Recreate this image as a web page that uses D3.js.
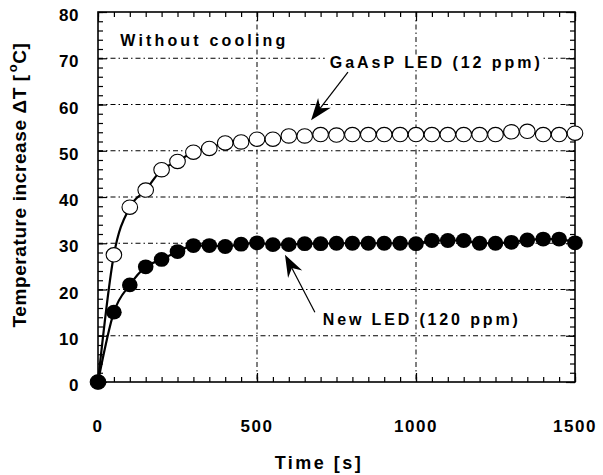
<!DOCTYPE html>
<html><head><meta charset="utf-8">
<script src="https://cdn.jsdelivr.net/npm/d3@7"></script>
<style>
body{margin:0;background:#fff;}
text{font-family:"Liberation Sans",Arial,sans-serif;font-weight:bold;fill:#000;}
</style></head>
<body><svg id="c" width="603" height="475"></svg>
<script>
const times = [0,50,100,150,200,250,300,350,400,450,500,550,600,650,700,750,800,850,900,950,1000,1050,1100,1150,1200,1250,1300,1350,1400,1450,1500];
const gaasp = [0,27.5,37.8,41.5,45.9,47.7,49.7,50.5,51.7,51.9,52.5,52.5,53.2,53.2,53.5,53.4,53.5,53.5,53.5,53.5,53.5,53.5,53.5,53.5,53.5,53.5,54.1,54.2,53.5,53.5,53.8];
const newled = [0,15.1,21.0,24.9,26.5,28.2,29.5,29.5,29.3,29.8,30.1,29.7,29.7,29.9,29.9,30.0,30.0,30.0,30.0,30.0,29.9,30.6,30.6,30.6,30.0,30.0,30.2,30.7,30.9,30.9,30.1];
const xTicks = [0,500,1000,1500];
const yTicks = [0,10,20,30,40,50,60,70,80];
const xTitle = "Time [s]";
const yTitle = "Temperature increase ΔT [";
const note = "Without cooling";
const label1 = "GaAsP LED (12 ppm)";
const label2 = "New LED (120 ppm)";

const W=603,H=475, L=98,R=575,T=12,B=382;
const svg=d3.select("#c");
const x=d3.scaleLinear().domain([0,1500]).range([L,R]);
const y=d3.scaleLinear().domain([0,80]).range([B,T]);

// gridlines
const g=svg.append("g");
g.selectAll(".hg").data(yTicks.filter(v=>v>0&&v<80)).join("line")
 .attr("x1",L).attr("x2",R).attr("y1",d=>y(d)).attr("y2",d=>y(d))
 .attr("stroke","#000").attr("stroke-width",1).attr("stroke-dasharray","5,3,1.5,3");
g.selectAll(".vg").data(xTicks.filter(v=>v>0&&v<1500)).join("line")
 .attr("y1",T).attr("y2",B).attr("x1",d=>x(d)).attr("x2",d=>x(d))
 .attr("stroke","#000").attr("stroke-width",1).attr("stroke-dasharray","5,3,1.5,3");

// axes with inward ticks on all sides
function tickAxes(){
  const xMinor=d3.range(0,1501,50), yMinor=d3.range(0,81,2);
  const mk=(axis,sc,vals,size)=>axis(sc).tickValues(vals).tickSize(size).tickFormat("");
  const sets=[
    [d3.axisBottom,x,xMinor,-5,`translate(0,${B})`],[d3.axisBottom,x,xTicks,-9,`translate(0,${B})`],
    [d3.axisTop,x,xMinor,-5,`translate(0,${T})`],[d3.axisTop,x,xTicks,-9,`translate(0,${T})`],
    [d3.axisLeft,y,yMinor,-5,`translate(${L},0)`],[d3.axisLeft,y,yTicks,-9,`translate(${L},0)`],
    [d3.axisRight,y,yMinor,-5,`translate(${R},0)`],[d3.axisRight,y,yTicks,-9,`translate(${R},0)`]];
  sets.forEach(([a,sc,vals,sz,tr])=>{
    const ax=svg.append("g").attr("transform",tr).call(mk(a,sc,vals,sz));
    ax.select(".domain").remove();
    ax.selectAll("line").attr("stroke","#000").attr("stroke-width",1.2);
  });
}
tickAxes();
svg.append("rect").attr("x",L).attr("y",T).attr("width",R-L).attr("height",B-T)
 .attr("fill","none").attr("stroke","#000").attr("stroke-width",1.6);

// tick labels
svg.selectAll(".xl").data(xTicks).join("text").attr("x",d=>x(d)).attr("y",432)
 .attr("text-anchor","middle").attr("font-size",17).attr("letter-spacing",1.5).text(d=>d);
svg.selectAll(".yl").data(yTicks).join("text").attr("x",79).attr("y",d=>y(d)+9)
 .attr("text-anchor","end").attr("font-size",17).attr("letter-spacing",0.5).text(d=>d);

// axis titles
svg.append("text").attr("x",319).attr("y",469).attr("text-anchor","middle")
 .attr("font-size",18).attr("letter-spacing",2.5).text(xTitle);
const yt=svg.append("text").attr("transform","translate(26,185) rotate(-90)")
 .attr("text-anchor","middle").attr("font-size",19).attr("letter-spacing",0.6);
yt.append("tspan").text(yTitle);
yt.append("tspan").attr("font-size",13).attr("dy",-9).attr("dx",2).text("o");
yt.append("tspan").attr("dy",9).text("C]");

// lines
const pts1=times.map((t,i)=>[t,gaasp[i]]), pts2=times.map((t,i)=>[t,newled[i]]);
const line=d3.line().x(d=>x(d[0])).y(d=>y(d[1])).curve(d3.curveMonotoneX);
svg.append("path").attr("d",line(pts1)).attr("fill","none").attr("stroke","#000").attr("stroke-width",2.2);
svg.append("path").attr("d",line(pts2)).attr("fill","none").attr("stroke","#000").attr("stroke-width",2.2);

// markers
svg.selectAll(".o").data(pts1).join("ellipse").attr("cx",d=>x(d[0])).attr("cy",d=>y(d[1]))
 .attr("rx",7.8).attr("ry",7.2).attr("fill","#fff").attr("stroke","#000").attr("stroke-width",1.1);
svg.selectAll(".f").data(pts2).join("ellipse").attr("cx",d=>x(d[0])).attr("cy",d=>y(d[1]))
 .attr("rx",7.8).attr("ry",7.4).attr("fill","#000");

// annotations
svg.append("text").attr("x",x(70)).attr("y",y(72.6)).attr("font-size",16)
 .attr("textLength",165).attr("lengthAdjust","spacing").text(note);
const l1=svg.append("text").attr("x",x(729)).attr("y",y(67.9)).attr("font-size",16)
 .attr("textLength",210).attr("lengthAdjust","spacing").text(label1);
const bb=l1.node().getBBox();
svg.insert("rect",()=>l1.node()).attr("x",bb.x-5).attr("y",bb.y+1).attr("width",bb.width+8).attr("height",bb.height-2).attr("fill","#fff");
svg.append("text").attr("x",x(707)).attr("y",y(12.4)).attr("font-size",16)
 .attr("textLength",195).attr("lengthAdjust","spacing").text(label2);

function arrow(t0,v0,t1,v1){
  const x0=x(t0),y0=y(v0),x1=x(t1),y1=y(v1);
  const a=Math.atan2(y1-y0,x1-x0)*180/Math.PI;
  const len=Math.hypot(x1-x0,y1-y0);
  const gg=svg.append("g").attr("transform",`translate(${x0},${y0}) rotate(${a})`);
  gg.append("line").attr("x1",0).attr("y1",0).attr("x2",len-12).attr("y2",0).attr("stroke","#000").attr("stroke-width",1.2);
  gg.append("path").attr("d",`M${len},0 L${len-22},-8 L${len-15},0 L${len-22},8 Z`).attr("fill","#000");
}
arrow(786,67,670,56.6);
arrow(682,15.1,588,27.5);
</script></body></html>
